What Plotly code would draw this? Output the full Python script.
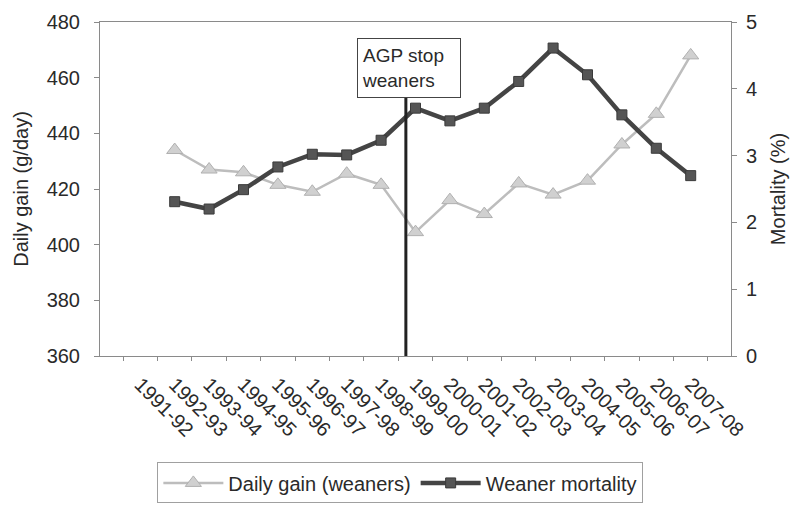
import plotly.graph_objects as go

seasons = ["1991-92", "1992-93", "1993-94", "1994-95", "1995-96", "1996-97",
           "1997-98", "1998-99", "1999-00", "2000-01", "2001-02", "2002-03",
           "2003-04", "2004-05", "2005-06", "2006-07", "2007-08"]

daily_gain = [None, 434, 427, 426, 421.5, 419, 425.5, 421.5, 404.5, 416, 411,
              422, 418, 423, 436, 447, 468]

mortality = [None, 2.31, 2.20, 2.49, 2.83, 3.02, 3.01, 3.23, 3.71, 3.52, 3.71,
             4.11, 4.61, 4.21, 3.61, 3.11, 2.70]

gain_ticks = [360, 380, 400, 420, 440, 460, 480]
mort_ticks = [0, 1, 2, 3, 4, 5]

FONT = "Liberation Sans, Arial, sans-serif"
TXT = "#2a2a2a"
AX = "#8a8a8a"

fig = go.Figure()
fig.add_trace(go.Scatter(
    x=seasons, y=daily_gain, name="Daily gain (weaners)", mode="lines+markers",
    line=dict(color="#bdbdbd", width=2.5),
    marker=dict(symbol="triangle-up", size=14, color="#d0d0d0",
                line=dict(color="#b0b0b0", width=1)),
    yaxis="y"))
fig.add_trace(go.Scatter(
    x=seasons, y=mortality, name="Weaner mortality", mode="lines+markers",
    line=dict(color="#444444", width=4.5),
    marker=dict(symbol="square", size=10, color="#555555",
                line=dict(color="#3a3a3a", width=1)),
    yaxis="y2"))

# AGP stop marker line and label
fig.add_shape(type="line", xref="x", yref="paper", x0=7.72, x1=7.72,
              y0=0, y1=0.776, line=dict(color="#222222", width=3))
fig.add_annotation(xref="x", yref="paper", x=7.8, y=0.863,
                   xanchor="center", yanchor="middle",
                   text="AGP stop<br>weaners", showarrow=False, align="left",
                   font=dict(family=FONT, size=19, color=TXT),
                   bgcolor="white", bordercolor="#444444", borderwidth=1,
                   borderpad=4, width=94, height=50)

fig.update_layout(
    width=796, height=511,
    margin=dict(l=100, r=65, t=22, b=155, autoexpand=False),
    paper_bgcolor="white", plot_bgcolor="white",
    font=dict(family=FONT, size=20, color=TXT),
    showlegend=True,
    legend=dict(orientation="h", x=0.476, xanchor="center", y=-0.38,
                yanchor="middle", bordercolor="#a0a0a0", borderwidth=1,
                font=dict(family=FONT, size=20, color=TXT),
                itemwidth=60, tracegroupgap=0),
    xaxis=dict(type="category", tickangle=45, tickson="boundaries",
               ticks="outside", ticklen=4, tickcolor=AX, automargin=False,
               ticklabelstandoff=8,
               showline=True, linecolor=AX, linewidth=1, mirror=True,
               showgrid=False, tickfont=dict(family=FONT, size=20, color=TXT)),
    yaxis=dict(range=[360, 480], tickvals=gain_ticks, ticks="outside",
               ticklen=5, tickcolor=AX, showline=True, linecolor=AX,
               linewidth=1, showgrid=False, zeroline=False, automargin=False,
               ticklabelstandoff=10,
               title=dict(text="Daily gain (g/day)", standoff=12,
                          font=dict(family=FONT, size=20, color=TXT)),
               tickfont=dict(family=FONT, size=20, color=TXT)),
    yaxis2=dict(range=[0, 5], tickvals=mort_ticks, overlaying="y", side="right",
                ticks="outside", ticklen=5, tickcolor=AX, showline=True,
                linecolor=AX, linewidth=1, showgrid=False, zeroline=False,
                automargin=False, ticklabelstandoff=5,
                title=dict(text="Mortality (%)", standoff=14,
                           font=dict(family=FONT, size=20, color=TXT)),
                tickfont=dict(family=FONT, size=20, color=TXT)),
)

fig.write_html("out.html", config={"displayModeBar": False},
               post_script="document.body.style.margin='0';document.body.style.padding='0';")
